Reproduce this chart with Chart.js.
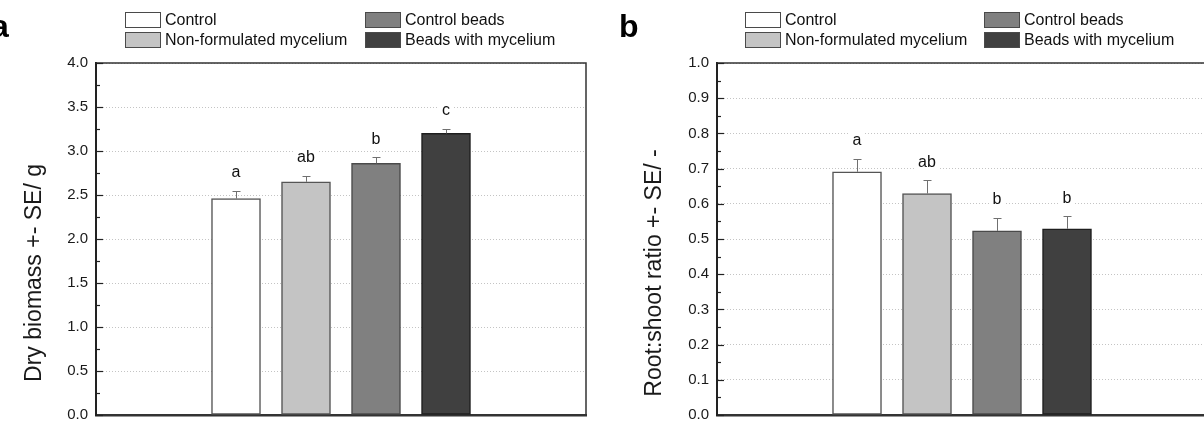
<!DOCTYPE html>
<html>
<head>
<meta charset="utf-8">
<script src="https://cdn.jsdelivr.net/npm/chart.js@4.4.1/dist/chart.umd.min.js"></script>
<style>
  body { margin: 0; width: 1204px; height: 432px; overflow: hidden; background: #fff; position: relative;
         font-family: "Liberation Sans", Arial, sans-serif; color: #111; }
  .panel { position: absolute; top: 0; height: 432px; }
  #pa { left: 0; width: 600px; }
  #pb { left: 600px; width: 620px; }
  .panel canvas { position: absolute; left: 0; top: 0; }
  .tag { position: absolute; top: 10px; font-weight: bold; font-size: 32px; line-height: 1; color: #000; }
  .leg { position: absolute; height: 16px; font-size: 16px; line-height: 16px; white-space: nowrap; }
  .leg i { position: absolute; left: 0; top: 0; width: 34px; height: 14px; border: 1px solid #4a4a4a; }
  .leg span { position: absolute; left: 40px; top: 0; }
</style>
</head>
<body>
<div class="panel" id="pa">
  <canvas id="chartA" width="600" height="432"></canvas>
  <div class="tag" style="left:-9px">a</div>
  <div class="legend"></div>
</div>
<div class="panel" id="pb">
  <canvas id="chartB" width="620" height="432"></canvas>
  <div class="tag" style="left:19px">b</div>
  <div class="legend"></div>
</div>
<script>
// data
const categories = ["Control", "Non-formulated mycelium", "Control beads", "Beads with mycelium"];
const barColors = ["#ffffff", "#c4c4c4", "#808080", "#404040"];
const barEdges = ["#555555", "#555555", "#4a4a4a", "#1e1e1e"];

const biomass = [2.46, 2.65, 2.86, 3.20];
const biomassSE = [0.09, 0.065, 0.07, 0.055];
const biomassLetters = ["a", "ab", "b", "c"];

const ratio = [0.691, 0.629, 0.523, 0.529];
const ratioSE = [0.037, 0.038, 0.037, 0.035];
const ratioLetters = ["a", "ab", "b", "b"];

// two empty slots on each side of the bars, like the original axis
function pad(arr) { return [null, null].concat(arr, [null, null]); }
const slotLabels = ["", ""].concat(categories, ["", ""]);

Chart.defaults.font.family = '"Liberation Sans", Arial, sans-serif';
Chart.defaults.color = "#1a1a1a";

function isMajor(v, major) {
  const r = v / major;
  return Math.abs(r - Math.round(r)) < 1e-6;
}

// legend in a 2x2 grid
function buildLegend(panel, col1, col2) {
  const box = panel.querySelector(".legend");
  const pos = [[col1, 12], [col1, 32], [col2, 12], [col2, 32]];
  const order = [0, 1, 2, 3];
  order.forEach(function (k) {
    const d = document.createElement("div");
    d.className = "leg";
    d.style.left = pos[k][0] + "px";
    d.style.top = pos[k][1] + "px";
    d.innerHTML = '<i style="background:' + barColors[k] + '"></i><span>' + categories[k] + "</span>";
    box.appendChild(d);
  });
}
buildLegend(document.getElementById("pa"), 125, 365);
buildLegend(document.getElementById("pb"), 145, 384);

const decorations = {
  id: "decorations",
  afterDatasetsDraw(chart, args, opts) {
    const ctx = chart.ctx;
    const ys = chart.scales.y;
    const meta = chart.getDatasetMeta(0);
    const vals = chart.data.datasets[0].data;
    ctx.save();
    // error bars (upper side only)
    ctx.strokeStyle = "#707070";
    ctx.lineWidth = 1;
    meta.data.forEach(function (bar, i) {
      const v = vals[i];
      if (v == null) return;
      const x = Math.round(bar.x) + 0.5;
      const yb = ys.getPixelForValue(v);
      const yt = Math.round(ys.getPixelForValue(v + opts.se[i])) + 0.5;
      ctx.beginPath();
      ctx.moveTo(x, yb);
      ctx.lineTo(x, yt);
      ctx.moveTo(x - 4, yt);
      ctx.lineTo(x + 4, yt);
      ctx.stroke();
    });
    // significance letters with white backing
    ctx.font = "16px " + Chart.defaults.font.family;
    ctx.textAlign = "center";
    ctx.textBaseline = "middle";
    meta.data.forEach(function (bar, i) {
      const v = vals[i];
      if (v == null) return;
      const y = ys.getPixelForValue(v + opts.se[i]) - 18;
      const w = ctx.measureText(opts.letters[i]).width;
      ctx.fillStyle = "#fff";
      ctx.fillRect(bar.x - w / 2 - 3, y - 9, w + 6, 18);
      ctx.fillStyle = "#111";
      ctx.fillText(opts.letters[i], bar.x, y);
    });
    ctx.restore();
  },
  afterDraw(chart, args, opts) {
    const ctx = chart.ctx;
    const a = chart.chartArea;
    const ys = chart.scales.y;
    ctx.save();
    // frame: top and right
    ctx.strokeStyle = "#333";
    ctx.lineWidth = 1.5;
    ctx.beginPath();
    ctx.moveTo(a.left, a.top);
    ctx.lineTo(a.right, a.top);
    ctx.lineTo(a.right, a.bottom);
    ctx.stroke();
    // inward ticks on the left axis
    ctx.strokeStyle = "#222";
    ctx.lineWidth = 1.2;
    ys.ticks.forEach(function (t) {
      const y = Math.round(ys.getPixelForValue(t.value)) + 0.5;
      const len = isMajor(t.value, opts.major) ? 7 : 4;
      ctx.beginPath();
      ctx.moveTo(a.left, y);
      ctx.lineTo(a.left + len, y);
      ctx.stroke();
    });
    // rotated axis title
    ctx.fillStyle = "#1a1a1a";
    ctx.font = "23px " + Chart.defaults.font.family;
    ctx.translate(opts.titleX, opts.titleY);
    ctx.rotate(-Math.PI / 2);
    ctx.textAlign = "center";
    ctx.textBaseline = "alphabetic";
    ctx.fillText(opts.title, 0, 0);
    ctx.restore();
  }
};

function makeChart(id, values, se, letters, yMax, major, minor, axisWidth, padRight, title, titleX) {
  return new Chart(document.getElementById(id), {
    type: "bar",
    data: {
      labels: slotLabels,
      datasets: [{
        data: pad(values),
        backgroundColor: pad(barColors),
        borderColor: pad(barEdges),
        borderWidth: 1.5,
        borderSkipped: false,
        barThickness: 49,
      }],
    },
    options: {
      responsive: false,
      animation: false,
      events: [],
      layout: { padding: { left: 0, right: padRight, top: 63, bottom: 0 } },
      plugins: {
        legend: { display: false },
        tooltip: { enabled: false },
        decorations: { se: pad(se), letters: pad(letters), major: major, title: title, titleX: titleX, titleY: 273 },
      },
      scales: {
        x: {
          type: "category",
          offset: false,
          grid: { display: false },
          ticks: { display: false },
          border: { display: true, width: 2.5, color: "#333" },
          afterFit: function (s) { s.height = 6; },
        },
        y: {
          min: 0,
          max: yMax,
          ticks: {
            stepSize: minor,
            autoSkip: false,
            padding: 8,
            font: { size: 15 },
            color: "#1a1a1a",
            callback: function (v) { return isMajor(v, major) ? v.toFixed(1) : ""; },
          },
          grid: {
            drawTicks: false,
            lineWidth: 1,
            color: function (c) {
              if (!c.tick) return "rgba(0,0,0,0)";
              return isMajor(c.tick.value, major) ? "#c4c4c4" : "rgba(0,0,0,0)";
            },
          },
          border: { display: true, width: 2, color: "#222", dash: [1, 2] },
          afterFit: function (s) { s.width = axisWidth; },
        },
      },
    },
    plugins: [decorations],
  });
}

makeChart("chartA", biomass, biomassSE, biomassLetters, 4, 0.5, 0.25, 96, 14, "Dry biomass +- SE/ g", 41);
makeChart("chartB", ratio, ratioSE, ratioLetters, 1, 0.1, 0.05, 117, 13, "Root:shoot ratio +- SE/ -", 61);
</script>
</body>
</html>
